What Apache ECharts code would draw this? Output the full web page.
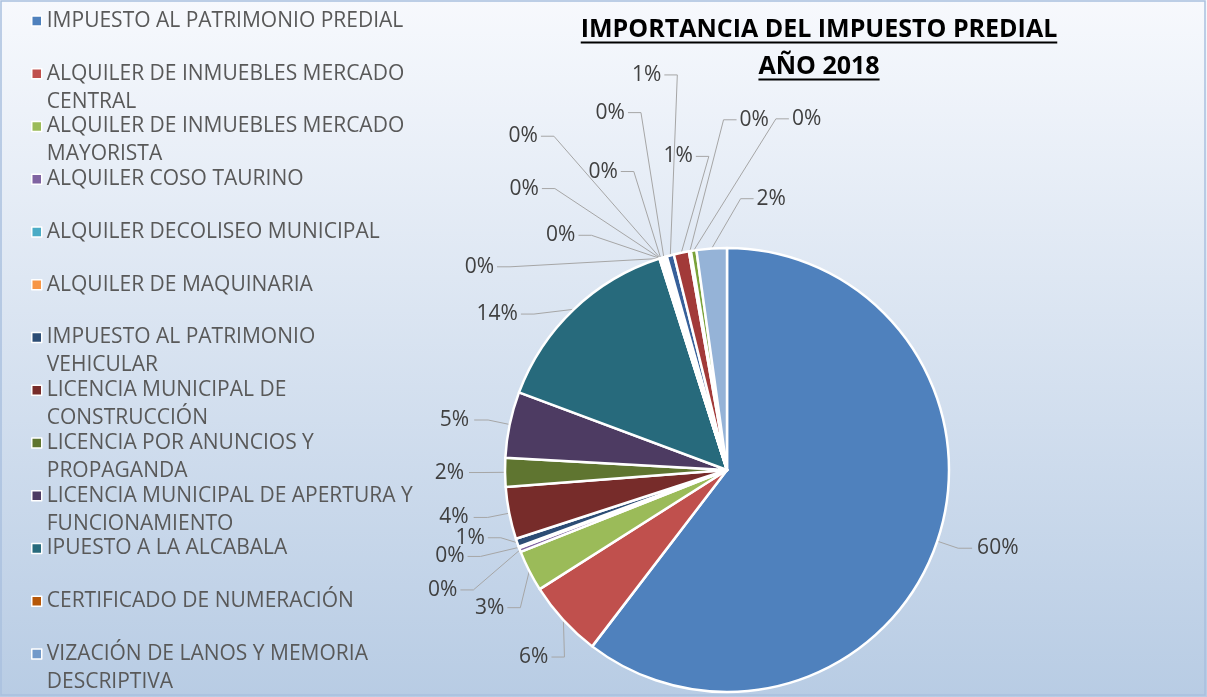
<!DOCTYPE html>
<html>
<head>
<meta charset="utf-8">
<script src="https://cdn.jsdelivr.net/npm/echarts@6/dist/echarts.min.js"></script>
<style>
  html, body { margin: 0; padding: 0; }
  #chart { width: 1207px; height: 697px; }
</style>
</head>
<body>
<div id="chart"></div>
<script>
// categories shown in the legend (first 13) plus the unnamed extra rows of the sheet
var categories = [
    "IMPUESTO AL PATRIMONIO PREDIAL",
    "ALQUILER DE INMUEBLES MERCADO CENTRAL",
    "ALQUILER DE INMUEBLES MERCADO MAYORISTA",
    "ALQUILER COSO TAURINO",
    "ALQUILER DECOLISEO MUNICIPAL",
    "ALQUILER DE MAQUINARIA",
    "IMPUESTO AL PATRIMONIO VEHICULAR",
    "LICENCIA MUNICIPAL DE CONSTRUCCIÓN",
    "LICENCIA POR ANUNCIOS Y PROPAGANDA",
    "LICENCIA MUNICIPAL DE APERTURA Y FUNCIONAMIENTO",
    "IPUESTO A LA ALCABALA",
    "CERTIFICADO DE NUMERACIÓN",
    "VIZACIÓN DE LANOS Y MEMORIA DESCRIPTIVA",
    "OTRO 14",
    "OTRO 15",
    "OTRO 16",
    "OTRO 17",
    "OTRO 18",
    "OTRO 19",
    "OTRO 20",
    "OTRO 21",
    "OTRO 22"
];
var legendCount = 13;

// share of each concept (%)
var values = [60.4, 5.6, 3.0, 0.3, 0.1, 0, 0.6, 3.8, 2.1, 4.8, 14.4,
    0.02, 0.02, 0.02, 0.02, 0.02, 0.45, 0.52, 1.1, 0.15, 0.4, 2.2];

var colors = ["#4f81bd", "#c0504d", "#9bbb59", "#8064a2", "#4bacc6", "#f79646",
    "#2c4d75", "#772c2a", "#5f7530", "#4d3b62", "#276a7c", "#b65708",
    "#729aca", "#cd7371", "#afc97a", "#9983b5", "#ffffff", "#37609a",
    "#a23a39", "#ffffff", "#7aa23a", "#95b3d7"];

var titleLines = ["IMPORTANCIA DEL IMPUESTO PREDIAL", "AÑO 2018"];

var FONT = "'Open Sans', sans-serif";
var CENTER = [727, 470];
var RADIUS = 222;

var measureCtx = document.createElement("canvas").getContext("2d");
function textWidth(str, font) {
    measureCtx.font = font;
    return measureCtx.measureText(str).width;
}

// wrap legend names like the spreadsheet does
function wrap(name, maxW, font) {
    var words = name.split(" ");
    var lines = [];
    var cur = "";
    words.forEach(function (w) {
        var test = cur ? cur + " " + w : w;
        if (cur && textWidth(test, font) > maxW) {
            lines.push(cur);
            cur = w;
        } else {
            cur = test;
        }
    });
    if (cur) lines.push(cur);
    return lines;
}

var legendFont = "21px " + FONT;
var legendLine = 28;

var total = values.reduce(function (a, b) { return a + b; }, 0);
var pct = values.map(function (v) { return v / total * 100; });

// mid angle of each slice, degrees clockwise from 12 o'clock
var midAngle = [];
(function () {
    var acc = 0;
    pct.forEach(function (p) {
        midAngle.push((acc + p / 2) * 3.6);
        acc += p;
    });
})();

// runs of neighbouring small slices get their labels spread out in a fan
var clusterOf = {};
(function () {
    var run = [];
    function flush() {
        var shown = run.filter(function (i) { return values[i] > 0; });
        if (shown.length > 1) {
            shown.forEach(function (i, k) {
                clusterOf[i] = { members: shown, k: k };
            });
        }
        run = [];
    }
    pct.forEach(function (p, i) {
        if (p < 2.5) run.push(i);
        else flush();
    });
    flush();
})();

// labels just before a fan (and the one before a small pushed one) move away counter-clockwise
var pushed = {};
for (var i = values.length - 1; i >= 0; i--) {
    if (clusterOf[i]) continue;
    if (clusterOf[i + 1] || (pushed[i + 1] && pct[i + 1] < 4)) pushed[i] = true;
}

function placeLabel(lx, ly, anchor) {
    var left = lx < CENTER[0];
    var s = left ? 1 : -1;
    return {
        x: lx,
        y: ly,
        align: left ? "right" : "left",
        verticalAlign: "middle",
        labelLinePoints: [anchor, [lx + s * 16, ly], [lx + s * 3, ly]]
    };
}

function fanLayout(params) {
    var i = params.dataIndex;
    var anchor = params.labelLinePoints ? params.labelLinePoints[0] : null;
    var c = clusterOf[i];
    if (!c) {
        if (pushed[i] && anchor) {
            var t = midAngle[i] * Math.PI / 180;
            var r = params.labelRect;
            var cx = r.x + r.width / 2 - 30 * Math.cos(t);
            var cy = r.y + r.height / 2 - 30 * Math.sin(t);
            var left = cx < CENTER[0];
            return placeLabel(cx + (left ? r.width / 2 : -r.width / 2), cy, anchor);
        }
        return;
    }
    var n = c.members.length;
    var k = c.k;
    var mean = c.members.reduce(function (a, j) { return a + midAngle[j]; }, 0) / n;
    var rad = mean * Math.PI / 180;
    var ex = CENTER[0] + RADIUS * Math.sin(rad);
    var ey = CENTER[1] - RADIUS * Math.cos(rad);
    var phi, d;
    if (n > 5) {
        phi = mean - 80 + 15 * k;
        d = [180, 100, 150][k % 3];
    } else {
        phi = mean - 15 + 25 * k;
        d = 75 - 20 * k;
    }
    var pr = phi * Math.PI / 180;
    return placeLabel(ex + d * Math.sin(pr), ey - d * Math.cos(pr), anchor || [ex, ey]);
}

var pieData = values.map(function (v, i) {
    var item = { name: categories[i], value: v, itemStyle: { color: colors[i] } };
    if (v === 0) {
        item.label = { show: false };
        item.labelLine = { show: false };
    }
    return item;
});

var chart = echarts.init(document.getElementById("chart"));

var titleX = 819;
var titleFont = "bold 25px " + FONT;
var graphics = [
    {
        type: "rect",
        shape: { x: 1, y: 1, width: 1204, height: 694 },
        style: { fill: "none", stroke: "#a9c0de", lineWidth: 1.5 },
        silent: true
    }
];
titleLines.forEach(function (t, i) {
    var w = textWidth(t, titleFont);
    var y = 30 + i * 37;
    graphics.push({
        type: "text",
        x: titleX,
        y: y,
        style: {
            text: t,
            font: titleFont,
            fill: "#000",
            align: "center",
            verticalAlign: "middle"
        },
        silent: true
    });
    graphics.push({
        type: "line",
        shape: { x1: titleX - w / 2, y1: y + 12.5, x2: titleX + w / 2, y2: y + 12.5 },
        style: { stroke: "#000", lineWidth: 2 },
        silent: true
    });
});

chart.setOption({
    backgroundColor: {
        type: "linear", x: 0, y: 0, x2: 0, y2: 1,
        colorStops: [
            { offset: 0, color: "#f7f9fd" },
            { offset: 1, color: "#b8cce4" }
        ]
    },
    animation: false,
    legend: {
        orient: "vertical",
        left: 31,
        top: 21 - legendLine * 1.5,
        padding: 0,
        itemGap: 52.75 - legendLine * 3,
        itemWidth: 10,
        itemHeight: 10,
        icon: "rect",
        itemStyle: { borderColor: "#ffffff", borderWidth: 1.5 },
        data: categories.slice(0, legendCount),
        formatter: function (name) {
            var lines = wrap(name, 372, legendFont);
            return "\n" + lines.join("\n") + (lines.length === 1 ? "\n" : "");
        },
        textStyle: {
            fontFamily: FONT,
            fontSize: 21,
            color: "#595959",
            lineHeight: legendLine
        }
    },
    graphic: graphics,
    series: [
        {
            type: "pie",
            center: CENTER,
            radius: RADIUS,
            startAngle: 90,
            clockwise: true,
            avoidLabelOverlap: false,
            itemStyle: { borderColor: "#ffffff", borderWidth: 2.5 },
            label: {
                position: "outside",
                formatter: function (p) {
                    return Math.round(p.percent) + "%";
                },
                fontFamily: FONT,
                fontSize: 21,
                color: "#404040"
            },
            labelLine: {
                length: 22,
                length2: 14,
                lineStyle: { color: "#a6a6a6", width: 1 }
            },
            labelLayout: fanLayout,
            data: pieData
        }
    ]
});
</script>
</body>
</html>
